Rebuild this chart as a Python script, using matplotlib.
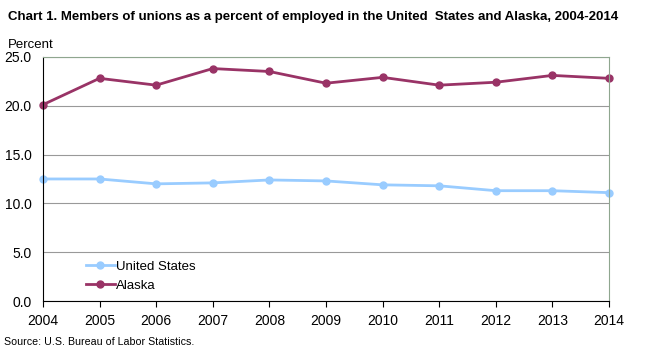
import numpy as np
import matplotlib
matplotlib.use('Agg')
import matplotlib.pyplot as plt

plt.rcParams['font.family'] = ['Liberation Sans', 'DejaVu Sans']

# data
years = [2004, 2005, 2006, 2007, 2008, 2009, 2010, 2011, 2012, 2013, 2014]
us = [12.5, 12.5, 12.0, 12.1, 12.4, 12.3, 11.9, 11.8, 11.3, 11.3, 11.1]
alaska = [20.1, 22.8, 22.1, 23.8, 23.5, 22.3, 22.9, 22.1, 22.4, 23.1, 22.8]
yticks = [0.0, 5.0, 10.0, 15.0, 20.0, 25.0]

fig = plt.figure(figsize=(6.5, 3.53), dpi=100)
ax = fig.add_axes([0.066, 0.147, 0.871, 0.692])

ax.plot(years, us, '-o', color='#99ccff', lw=2, ms=5, label='United States', clip_on=False)
ax.plot(years, alaska, '-o', color='#993366', lw=2, ms=5, label='Alaska', clip_on=False)

ax.set_xlim(2004, 2014)
ax.set_ylim(0, 25)
ax.set_xticks(years)
ax.set_yticks(yticks)
ax.set_yticklabels(['{:.1f}'.format(v) for v in yticks])
ax.tick_params(axis='both', labelsize=10, colors='black')
ax.tick_params(axis='y', length=0, pad=8)
ax.tick_params(axis='x', length=4, direction='out', pad=5)

ax.grid(axis='y', color='#999999', lw=0.8)
ax.set_axisbelow(True)
for s in ['top', 'right']:
    ax.spines[s].set_color('#8fa68f')
for s in ['left', 'bottom']:
    ax.spines[s].set_color('black')

ax.legend(loc='lower left', bbox_to_anchor=(0.055, -0.01), frameon=False, fontsize=9.5,
          handlelength=2.2, handletextpad=0.1, labelspacing=0.5)

fig.text(0.012, 0.953, 'Chart 1. Members of unions as a percent of employed in the United  States and Alaska, 2004-2014',
         fontsize=9.5, fontweight='bold', va='center')
fig.text(0.012, 0.873, 'Percent', fontsize=9.5, va='center')
fig.text(0.006, 0.03, 'Source: U.S. Bureau of Labor Statistics.', fontsize=7.7, va='center')

fig.savefig('out.png', dpi=100)
